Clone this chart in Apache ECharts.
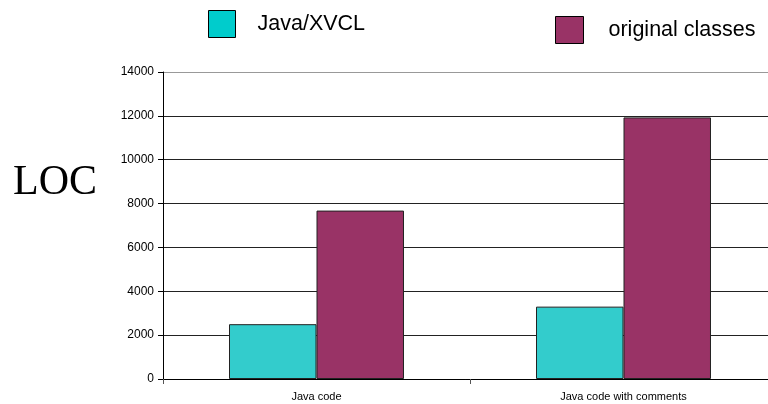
<!DOCTYPE html>
<html>
<head>
<meta charset="utf-8">
<script src="https://cdn.jsdelivr.net/npm/echarts@6/dist/echarts.min.js"></script>
<style>
  html, body { margin: 0; padding: 0; background: #fff; }
  #chart { width: 768px; height: 404px; }
</style>
</head>
<body>
<div id="chart"></div>
<script>
// data
const categories = ['Java code', 'Java code with comments']
const xvclValues = [2500, 3300]
const originalValues = [7680, 11930]

const chart = echarts.init(document.getElementById('chart'), null, { renderer: 'canvas' })

// grid lines: dark, the top one lighter grey
const gridColors = ['#222', '#222', '#222', '#222', '#222', '#222', '#222', '#999']

chart.setOption({
  animation: false,
  backgroundColor: '#fff',
  graphic: [{
    type: 'text',
    left: 13,
    top: 162,
    style: {
      text: 'LOC',
      font: '42px "Liberation Serif", "DejaVu Serif", serif',
      fill: '#000'
    }
  }],
  legend: [{
    left: 208,
    top: 10,
    padding: 0,
    itemWidth: 27,
    itemHeight: 27,
    icon: 'rect',
    selectedMode: false,
    textStyle: { fontSize: 21.5, color: '#000', fontFamily: 'Liberation Sans, Arial, sans-serif', padding: [0, 0, 0, 17] },
    data: [{ name: 'Java/XVCL', itemStyle: { color: '#00CCCC', borderColor: '#000', borderWidth: 1 } }]
  }, {
    left: 555,
    top: 16,
    padding: 0,
    itemWidth: 28,
    itemHeight: 27,
    icon: 'rect',
    selectedMode: false,
    textStyle: { fontSize: 21.5, color: '#000', fontFamily: 'Liberation Sans, Arial, sans-serif', padding: [0, 0, 0, 20] },
    data: [{ name: 'original classes', itemStyle: { color: '#993366', borderColor: '#000', borderWidth: 1 } }]
  }],
  grid: {
    left: 163,
    width: 614,
    top: 72,
    bottom: 25,
    containLabel: false,
    outerBoundsMode: 'none'
  },
  xAxis: {
    type: 'category',
    data: categories,
    boundaryGap: true,
    axisLine: { show: true, lineStyle: { color: '#000', width: 1 } },
    axisTick: { show: true, interval: 0, length: 5, lineStyle: { color: '#555' } },
    axisLabel: {
      interval: 0,
      fontSize: 11,
      color: '#000',
      margin: 12,
      fontFamily: 'Liberation Sans, Arial, sans-serif'
    },
    splitLine: { show: false }
  },
  yAxis: {
    type: 'value',
    min: 0,
    max: 14000,
    interval: 2000,
    axisLine: { show: true, lineStyle: { color: '#000', width: 1 } },
    axisTick: { show: true, length: 5, lineStyle: { color: '#000' } },
    axisLabel: {
      fontSize: 12,
      color: '#000',
      margin: 9,
      formatter: function(v) { return String(v) },
      fontFamily: 'Liberation Sans, Arial, sans-serif'
    },
    splitLine: { show: true, lineStyle: { color: gridColors, width: 1 } }
  },
  series: [{
    name: 'Java/XVCL',
    type: 'bar',
    data: xvclValues,
    barGap: 0,
    barCategoryGap: '43%',
    itemStyle: { color: '#33CCCC', borderColor: '#222', borderWidth: 1 }
  }, {
    name: 'original classes',
    type: 'bar',
    data: originalValues,
    barGap: 0,
    barCategoryGap: '43%',
    itemStyle: { color: '#993366', borderColor: '#222', borderWidth: 1 }
  }]
})
</script>
</body>
</html>
